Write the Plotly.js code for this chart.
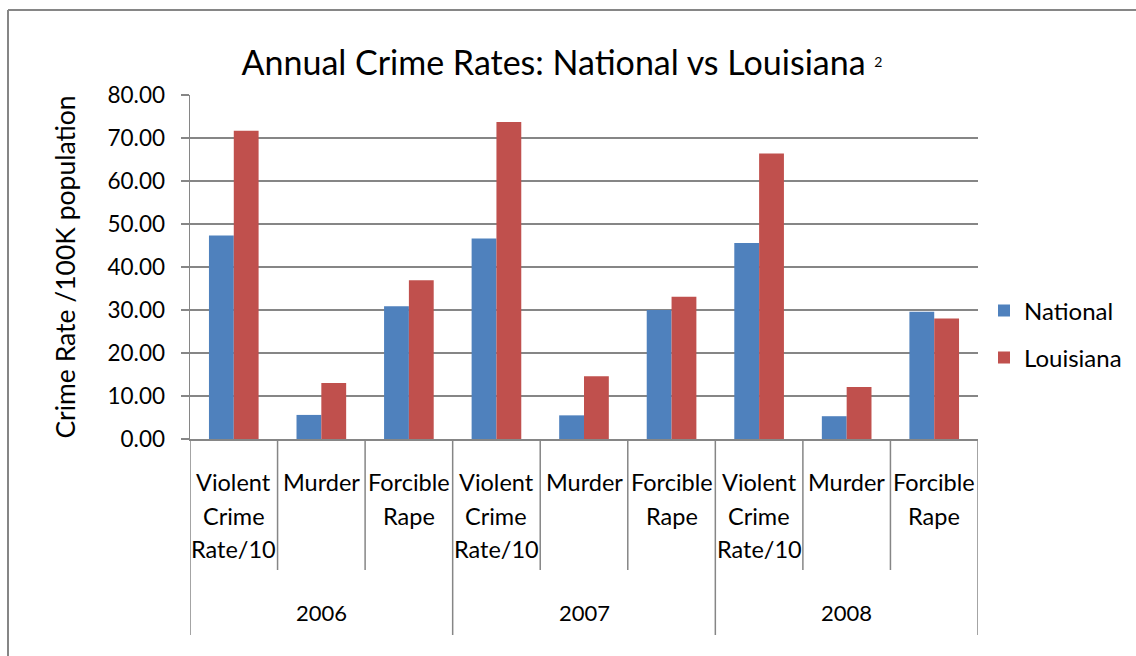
<!DOCTYPE html>
<html>
<head>
<meta charset="utf-8">
<script src="https://cdn.plot.ly/plotly-3.0.1.min.js"></script>
<style>html,body{margin:0;padding:0;background:#fff;}#chart{width:1136px;height:656px;}</style>
</head>
<body>
<div id="chart"></div>
<script>
const years = ['2006', '2007', '2008'];
const crimes = ['Violent Crime Rate/10', 'Murder', 'Forcible Rape'];
const national = [47.3, 5.6, 30.9, 46.6, 5.5, 30.0, 45.6, 5.3, 29.6];
const louisiana = [71.7, 13.0, 36.9, 73.7, 14.6, 33.1, 66.4, 12.1, 28.0];
const yTicks = [0, 10, 20, 30, 40, 50, 60, 70, 80];

const FONT = 'Lato, "Open Sans", sans-serif';
const GRID = '#868686';
const W = 1136, H = 656;
const M = {l: 190, r: 158, t: 95, b: 217, autoexpand: false};
const plotH = H - M.t - M.b;
const plotW = W - M.l - M.r;

const idx = national.map((_, i) => i);
const hover = idx.map(i => years[Math.floor(i / crimes.length)] + ' ' + crimes[i % crimes.length]);

const traces = [
  {type: 'bar', name: 'National', x: idx, y: national, text: hover, hoverinfo: 'text+y',
   textposition: 'none', marker: {color: '#4F81BD'}, legend: 'legend'},
  {type: 'bar', name: 'Louisiana', x: idx, y: louisiana, text: hover, hoverinfo: 'text+y',
   textposition: 'none', marker: {color: '#C0504D'}, legend: 'legend2'}
];

const annotations = [];
const shapes = [];
const px = p => p / plotH; // pixels to paper-y units

// category labels (word per line)
idx.forEach(i => {
  const words = crimes[i % crimes.length].split(' ');
  words.forEach((w, k) => {
    annotations.push({x: i, xref: 'x', y: 0, yref: 'paper', yshift: -(43 + 33.5 * k),
      yanchor: 'middle', xanchor: 'center', text: w, showarrow: false,
      font: {family: FONT, size: 23.5, color: '#000'}});
  });
});
// year labels
years.forEach((yr, j) => {
  annotations.push({x: j * crimes.length + (crimes.length - 1) / 2, xref: 'x', y: 0, yref: 'paper',
    yshift: -173, yanchor: 'middle', xanchor: 'center', text: yr, showarrow: false,
    font: {family: FONT, size: 22, color: '#000'}});
});
// dividers between categories
for (let i = 0; i <= national.length; i++) {
  const isYear = i % crimes.length === 0;
  shapes.push({type: 'line', xref: 'x', yref: 'paper', x0: i - 0.5, x1: i - 0.5,
    y0: 0, y1: -px(isYear ? 196 : 131), line: {color: GRID, width: 1.5}});
}
// outer frame (top and left edges)
shapes.push({type: 'line', xref: 'paper', yref: 'paper', x0: (8 - M.l) / plotW, x1: (W + 10 - M.l) / plotW,
  y0: 1 + px(M.t - 10), y1: 1 + px(M.t - 10), line: {color: GRID, width: 2}});
shapes.push({type: 'line', xref: 'paper', yref: 'paper', x0: (8 - M.l) / plotW, x1: (8 - M.l) / plotW,
  y0: 1 + px(M.t - 10), y1: -px(M.b + 10), line: {color: GRID, width: 2}});

const layout = {
  width: W, height: H,
  margin: M,
  paper_bgcolor: '#fff', plot_bgcolor: '#fff',
  font: {family: FONT, color: '#000'},
  title: {text: 'Annual Crime Rates: National vs Louisiana <span style="font-size:20px"><sup>2</sup></span>',
    font: {family: FONT, size: 34, color: '#000'},
    xref: 'container', yref: 'container', x: 562 / W, y: 1 - 63 / H, xanchor: 'center', yanchor: 'middle'},
  barmode: 'group', bargap: 0.433, bargroupgap: 0,
  xaxis: {type: 'linear', range: [-0.5, national.length - 0.5], showticklabels: false, showgrid: false,
    zeroline: false, showline: true, linecolor: GRID, linewidth: 1.5, ticks: '', fixedrange: true},
  yaxis: {range: [0, 80], tickvals: yTicks, tickformat: '.2f', showgrid: true, gridcolor: GRID, gridwidth: 1.5,
    zeroline: false, showline: true, linecolor: GRID, linewidth: 1.5, ticks: 'outside', ticklen: 8,
    tickcolor: GRID, tickwidth: 1.5, ticklabelstandoff: 11,
    tickfont: {family: FONT, size: 22.5, color: '#000'},
    title: {text: 'Crime Rate /100K population', font: {family: FONT, size: 26.5, color: '#000'}, standoff: 24},
    fixedrange: true},
  showlegend: true,
  legend: {x: (984 - M.l) / plotW, xanchor: 'left', y: 1 - (311 - M.t) / plotH, yanchor: 'middle',
    font: {family: FONT, size: 24, color: '#000'}, bgcolor: 'rgba(0,0,0,0)'},
  legend2: {x: (984 - M.l) / plotW, xanchor: 'left', y: 1 - (358 - M.t) / plotH, yanchor: 'middle',
    font: {family: FONT, size: 24, color: '#000'}, bgcolor: 'rgba(0,0,0,0)'},
  annotations: annotations,
  shapes: shapes
};

Plotly.newPlot('chart', traces, layout, {displayModeBar: false, staticPlot: true});
</script>
</body>
</html>
